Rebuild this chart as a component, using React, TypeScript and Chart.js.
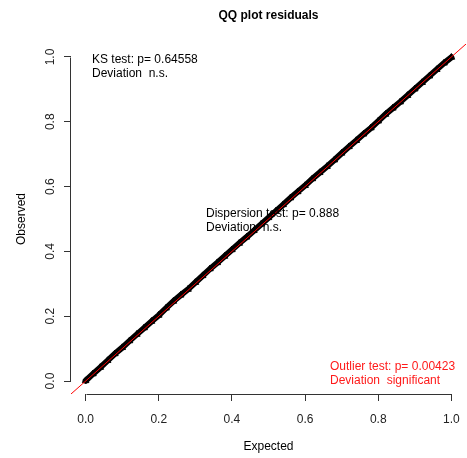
import React, { useEffect, useRef } from "react";
import { Chart, registerables } from "chart.js";

Chart.register(...registerables);

// ---- data ----
const expected = [
  0, 0.02, 0.04, 0.06, 0.08, 0.1, 0.12, 0.14, 0.16, 0.18, 0.2, 0.22, 0.24, 0.26, 0.28, 0.3, 0.32,
  0.34, 0.36, 0.38, 0.4, 0.42, 0.44, 0.46, 0.48, 0.5, 0.52, 0.54, 0.56, 0.58, 0.6, 0.62, 0.64, 0.66,
  0.68, 0.7, 0.72, 0.74, 0.76, 0.78, 0.8, 0.82, 0.84, 0.86, 0.88, 0.9, 0.92, 0.94, 0.96, 0.98, 1.0,
];
const observed = [
  0.001, 0.022, 0.042, 0.063, 0.084, 0.103, 0.124, 0.144, 0.164, 0.184, 0.203, 0.225, 0.246, 0.265,
  0.283, 0.304, 0.325, 0.346, 0.365, 0.385, 0.405, 0.425, 0.444, 0.464, 0.484, 0.504, 0.524, 0.544,
  0.565, 0.584, 0.603, 0.624, 0.643, 0.662, 0.682, 0.703, 0.723, 0.742, 0.762, 0.781, 0.802, 0.823,
  0.842, 0.861, 0.881, 0.901, 0.921, 0.941, 0.961, 0.981, 0.999,
];
const refLineEnds = [-0.04, 1.04]; // y = x reference line
const axisMin = -0.04;
const axisMax = 1.04;
const xTicks = [0, 0.2, 0.4, 0.6, 0.8, 1.0];
const yTicks = [0, 0.2, 0.4, 0.6, 0.8, 1.0];
const chartTitle = "QQ plot residuals";
const xLabel = "Expected";
const yLabel = "Observed";
const ksText = ["KS test: p= 0.64558", "Deviation  n.s."];
const dispText = ["Dispersion test: p= 0.888", "Deviation  n.s."];
const outlierText = ["Outlier test: p= 0.00423", "Deviation  significant"];

const FONT = "'Liberation Sans', Arial, sans-serif";

const rAxesPlugin = {
  id: "rAxes",
  afterDraw(chart: any) {
    const { ctx, chartArea, scales } = chart;
    const xs = scales.x;
    const ys = scales.y;
    ctx.save();
    ctx.strokeStyle = "#333";
    ctx.lineWidth = 1;
    // x axis line from first to last tick
    const yb = Math.round(chartArea.bottom) + 0.5;
    ctx.beginPath();
    ctx.moveTo(Math.round(xs.getPixelForValue(xTicks[0])) + 0.5, yb);
    ctx.lineTo(Math.round(xs.getPixelForValue(xTicks[xTicks.length - 1])) + 0.5, yb);
    ctx.stroke();
    // y axis line
    const xl = Math.round(chartArea.left) - 0.5;
    ctx.beginPath();
    ctx.moveTo(xl, Math.round(ys.getPixelForValue(yTicks[0])) + 0.5);
    ctx.lineTo(xl, Math.round(ys.getPixelForValue(yTicks[yTicks.length - 1])) + 0.5);
    ctx.stroke();

    // annotations (R legends, no box)
    ctx.font = `12px ${FONT}`;
    ctx.textBaseline = "alphabetic";
    ctx.textAlign = "left";
    const drawLines = (lines: string[], x: number, y: number, color: string) => {
      ctx.fillStyle = color;
      lines.forEach((t, i) => ctx.fillText(t, x, y + i * 14));
    };
    drawLines(ksText, chartArea.left + 21, chartArea.top + 19, "#000");
    drawLines(dispText, chartArea.left + 135, chartArea.top + 173, "#000");
    drawLines(outlierText, chartArea.left + 259, chartArea.bottom - 24, "#ff1a1a");
    ctx.restore();
  },
};

export default function App() {
  const canvasRef = useRef<HTMLCanvasElement | null>(null);

  useEffect(() => {
    document.body.style.margin = "0";
    const canvas = canvasRef.current;
    if (!canvas) return;
    Chart.defaults.font.family = FONT;
    const chart = new Chart(canvas, {
      type: "scatter",
      data: {
        datasets: [
          {
            label: "ref",
            data: refLineEnds.map((v) => ({ x: v, y: v })),
            showLine: true,
            borderColor: "#ff0000",
            borderWidth: 1,
            pointRadius: 0,
            pointHoverRadius: 0,
            clip: 0,
            order: 0,
          },
          {
            label: "residuals",
            data: expected.map((e, i) => ({ x: e, y: observed[i] })),
            showLine: true,
            borderColor: "#000",
            borderWidth: 6,
            borderCapStyle: "round",
            pointStyle: "triangle",
            pointRadius: 3.8,
            pointHoverRadius: 3.8,
            pointBorderWidth: 1,
            pointBorderColor: "#000",
            pointBackgroundColor: "#000",
            order: 1,
          },
        ],
      },
      options: {
        responsive: false,
        animation: false,
        events: [],
        layout: { autoPadding: false, padding: { left: 0, right: 1, top: 0, bottom: 0 } },
        plugins: {
          legend: { display: false },
          tooltip: { enabled: false },
          title: {
            display: true,
            text: chartTitle,
            fullSize: false,
            color: "#000",
            font: { size: 12, weight: "bold", family: FONT },
            padding: { top: 8.5, bottom: 21.1 },
          },
        },
        scales: {
          x: {
            type: "linear",
            position: "bottom",
            min: axisMin,
            max: axisMax,
            afterBuildTicks: (s: any) => {
              s.ticks = xTicks.map((v) => ({ value: v }));
            },
            afterFit: (s: any) => {
              s.height = 64;
              s.paddingLeft = 0;
              s.paddingRight = 0;
            },
            border: { display: false },
            grid: {
              display: true,
              drawOnChartArea: false,
              drawTicks: true,
              tickLength: 7,
              color: "#333",
              lineWidth: 1,
            },
            ticks: {
              color: "#222",
              font: { size: 12, family: FONT },
              padding: 11,
              maxRotation: 0,
              minRotation: 0,
              autoSkip: false,
              callback: (v: any) => Number(v).toFixed(1),
            },
            title: {
              display: true,
              text: xLabel,
              color: "#000",
              font: { size: 12, family: FONT },
              padding: { top: 0, bottom: 3.8 },
            },
          },
          y: {
            type: "linear",
            position: "left",
            min: axisMin,
            max: axisMax,
            afterBuildTicks: (s: any) => {
              s.ticks = yTicks.map((v) => ({ value: v }));
            },
            afterFit: (s: any) => {
              s.width = 71;
              s.paddingTop = 0;
              s.paddingBottom = 0;
            },
            border: { display: false },
            grid: {
              display: true,
              drawOnChartArea: false,
              drawTicks: true,
              tickLength: 7,
              color: "#333",
              lineWidth: 1,
            },
            ticks: {
              color: "#222",
              font: { size: 12, family: FONT },
              padding: 5,
              minRotation: 90,
              maxRotation: 90,
              crossAlign: "center",
              autoSkip: false,
              callback: (v: any) => Number(v).toFixed(1),
            },
            title: {
              display: true,
              text: yLabel,
              color: "#000",
              font: { size: 12, family: FONT },
              padding: { top: 14.8, bottom: 0 },
            },
          },
        },
      },
      plugins: [rAxesPlugin],
    } as any);
    return () => chart.destroy();
  }, []);

  return (
    <div style={{ position: "fixed", left: 0, top: 0, width: 467, height: 458, background: "#fff" }}>
      <canvas ref={canvasRef} width={467} height={458} style={{ display: "block" }} />
    </div>
  );
}
